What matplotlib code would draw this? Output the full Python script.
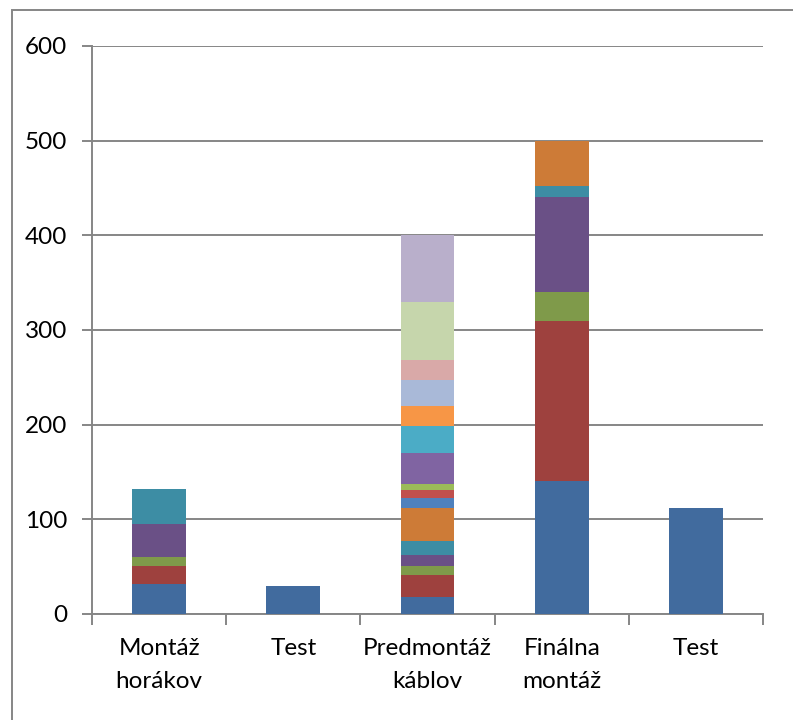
import numpy as np
import matplotlib.pyplot as plt
from matplotlib.patches import Rectangle

categories = ["Montáž\nhorákov", "Test", "Predmontáž\nkáblov", "Finálna\nmontáž", "Test"]

# one list per stacked series, values per category
series = [
    [32, 30, 18, 141, 112],
    [19, 0, 23, 168, 0],
    [9, 0, 10, 31, 0],
    [35, 0, 11, 100, 0],
    [37, 0, 15, 12, 0],
    [0, 0, 35, 48, 0],
    [0, 0, 11, 0, 0],
    [0, 0, 8, 0, 0],
    [0, 0, 6, 0, 0],
    [0, 0, 33, 0, 0],
    [0, 0, 29, 0, 0],
    [0, 0, 21, 0, 0],
    [0, 0, 27, 0, 0],
    [0, 0, 21, 0, 0],
    [0, 0, 62, 0, 0],
    [0, 0, 70, 0, 0],
]

colors = [
    "#416b9e", "#9e413e", "#7f9a4a", "#6a5086", "#3d8da4", "#cd7b37",
    "#4f81bd", "#c0504d", "#9bbb59", "#8064a2", "#4bacc6", "#f79646",
    "#a9b9d8", "#d9a9a8", "#c6d6ac", "#b9afcb",
]

yticks = [0, 100, 200, 300, 400, 500, 600]

plt.rcParams['font.family'] = ['Lato', 'DejaVu Sans']

fig = plt.figure(figsize=(7.93, 7.2), dpi=100)
fig.patches.append(Rectangle((12 / 793, -0.1), 1.1, 1.1 - 10 / 720,
                             transform=fig.transFigure, fill=False,
                             edgecolor="#868686", linewidth=1.4))

ax = fig.add_axes([92 / 793, 1 - 614 / 720, (763 - 92) / 793, (614 - 46) / 720])

x = np.arange(len(categories))
bottom = np.zeros(len(categories))
for vals, c in zip(series, colors):
    vals = np.array(vals, dtype=float)
    ax.bar(x, vals, width=0.4, bottom=bottom, color=c, linewidth=0, zorder=3)
    bottom += vals

ax.set_xlim(-0.5, len(categories) - 0.5)
ax.set_ylim(0, 600)
ax.set_yticks(yticks)
ax.set_yticklabels([str(v) for v in yticks])

ax.set_xticks(x)
ax.set_xticklabels(categories, linespacing=1.75, va="top")
ax.set_xticks(np.arange(len(categories) + 1) - 0.5, minor=True)
ax.tick_params(axis="x", which="major", length=0, pad=17)
ax.tick_params(axis="x", which="minor", length=8, width=1.4, color="#868686")
ax.tick_params(axis="y", length=7, width=1.4, color="#868686", pad=11)
ax.tick_params(labelsize=17.5, labelcolor="black")

ax.grid(axis="y", color="#868686", linewidth=1.4, zorder=0)
ax.set_axisbelow(True)
for s in ["top", "right"]:
    ax.spines[s].set_visible(False)
for s in ["left", "bottom"]:
    ax.spines[s].set_color("#868686")
    ax.spines[s].set_linewidth(1.4)

fig.savefig("out.png", dpi=100)
